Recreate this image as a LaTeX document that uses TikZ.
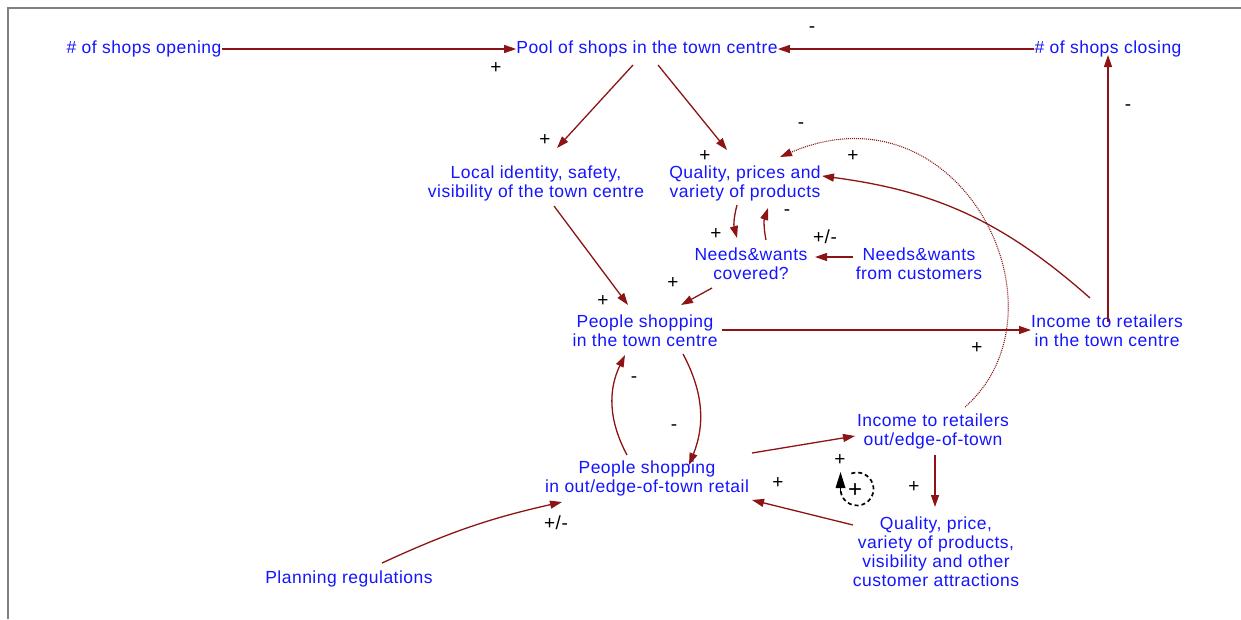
\documentclass[tikz,border=0pt]{standalone}
\usepackage{fontspec}
\setmainfont{Liberation Sans}[LetterSpace=2.8]
\usetikzlibrary{arrows.meta,calc}
\definecolor{varblue}{RGB}{20,20,255}
\definecolor{linkred}{RGB}{140,20,20}
\definecolor{framegray}{RGB}{128,128,128}
\begin{document}
\begin{tikzpicture}[x=1pt,y=-1pt,
  var/.style={text=varblue, align=center, inner sep=0pt, yshift=-2pt, font=\fontsize{17.5}{19}\selectfont},
  pol/.style={text=black, inner sep=0pt, font=\fontsize{19}{19}\selectfont},
  link/.style={draw=linkred, line width=1.3pt, -{Triangle[length=12pt,width=8pt]}},
  dotlink/.style={draw=linkred, line width=1.1pt, dash pattern=on 1pt off 1pt, -{Triangle[length=12pt,width=8pt]}},
  loopsym/.style={draw=black, line width=1.7pt, dash pattern=on 4pt off 3pt}]
\useasboundingbox (0,0) rectangle (1241,619);
% frame
\draw[framegray, line width=2.2pt] (8,619) -- (8,8) -- (1241,8);

% variables
\node[var] (opening) at (144,47) {\# of shops opening};
\node[var] (pool) at (647,47) {Pool of shops in the town centre};
\node[var] (closing) at (1108,47) {\# of shops closing};
\node[var] (local) at (536,181) {Local identity, safety,\\visibility of the town centre};
\node[var] (quality) at (745,181) {Quality, prices and\\variety of products};
\node[var] (needsC) at (751,262) {Needs\&wants\\covered?};
\node[var] (needsF) at (919,262) {Needs\&wants\\from customers};
\node[var] (peopleT) at (645,329) {People shopping\\in the town centre};
\node[var] (incomeT) at (1107,329) {Income to retailers\\in the town centre};
\node[var] (incomeO) at (933,429) {Income to retailers\\out/edge-of-town};
\node[var] (peopleO) at (647,476) {People shopping\\in out/edge-of-town retail};
\node[var] (qualityO) at (936,550) {Quality, price,\\variety of products,\\visibility and other\\customer attractions};
\node[var] (planning) at (349,577) {Planning regulations};

% causal links
\draw[link] (opening.east) -- (pool.west);
\draw[link] (closing.west) -- (pool.east);
\draw[link] ([shift={(1,-9)}]incomeT.center) -- ([shift={(0,6)}]closing.center);
\draw[link] ([shift={(-14,16)}]pool.center) -- ([shift={(21,-35)}]local.center);
\draw[link] ([shift={(11,16)}]pool.center) -- ([shift={(-18,-33)}]quality.center);
\draw[link] ([shift={(18,23)}]local.center) -- ([shift={(-17,-26)}]peopleT.center);
\draw[link] ([shift={(-8,22)}]quality.center) to[bend right=15] ([shift={(-14,-26)}]needsC.center);
\draw[link] ([shift={(15,-24)}]needsC.center) to[bend left=15] ([shift={(23,25)}]quality.center);
\draw[link] ([shift={(-66,-7)}]needsF.center) -- ([shift={(64,-7)}]needsC.center);
\draw[link] ([shift={(-39,24)}]needsC.center) -- ([shift={(36,-26)}]peopleT.center);
\draw[link] ([shift={(77,-1)}]peopleT.center) -- ([shift={(-76,-1)}]incomeT.center);
\draw[link] ([shift={(-17,-33)}]incomeT.center) to[bend right=17] ([shift={(77,-7)}]quality.center);
\draw[dotlink] ([shift={(32,-24)}]incomeO.center) .. controls (1075,310) and (960,80) .. ([shift={(35,-26)}]quality.center);
\draw[link] ([shift={(38,23)}]peopleT.center) to[bend left=25] ([shift={(42,-13)}]peopleO.center);
\draw[link] ([shift={(-20,-23)}]peopleO.center) to[bend left=27] ([shift={(-20,24)}]peopleT.center);
\draw[link] ([shift={(105,-25)}]peopleO.center) -- ([shift={(-78,5)}]incomeO.center);
\draw[link] ([shift={(2,24)}]incomeO.center) -- ([shift={(-1,-45)}]qualityO.center);
\draw[link] ([shift={(-83,-27)}]qualityO.center) -- ([shift={(105,22)}]peopleO.center);
\draw[link] ([shift={(33,-16)}]planning.center) to[bend left=6] ([shift={(-85,24)}]peopleO.center);

% polarities
\node[pol] (p1) at (496,68) {+};
\node[pol] (p2) at (812,30) {-};
\node[pol] (p3) at (1128,108) {-};
\node[pol] (p4) at (545,140) {+};
\node[pol] (p5) at (705,156) {+};
\node[pol] (p6) at (801,126) {-};
\node[pol] (p7) at (853,156) {+};
\node[pol] (p8) at (716,234) {+};
\node[pol] (p9) at (787,213) {-};
\node[pol] (p10) at (825,237) {+/-};
\node[pol] (p11) at (673,283) {+};
\node[pol] (p12) at (603,301) {+};
\node[pol] (p13) at (977,348) {+};
\node[pol] (p14) at (634,380) {-};
\node[pol] (p15) at (674,428) {-};
\node[pol] (p16) at (840,460) {+};
\node[pol] (p17) at (778,483) {+};
\node[pol] (p18) at (914,487) {+};
\node[pol] (p19) at (556,523) {+/-};

% reinforcing loop marker
\coordinate (loopc) at (857,489);
\draw[loopsym] ([shift={(250:16.5)}]loopc) arc[start angle=250, end angle=532, radius=16.5];
\node[text=black, inner sep=0pt, font=\fontsize{24}{24}\selectfont] (loopsign) at (855,491) {+};
\fill[black] (840.5,472) -- (835.5,488) -- (845.5,488) -- cycle;
\draw[black, line width=1.7pt] (840.5,486) -- (840.5,492);
\end{tikzpicture}
\end{document}
